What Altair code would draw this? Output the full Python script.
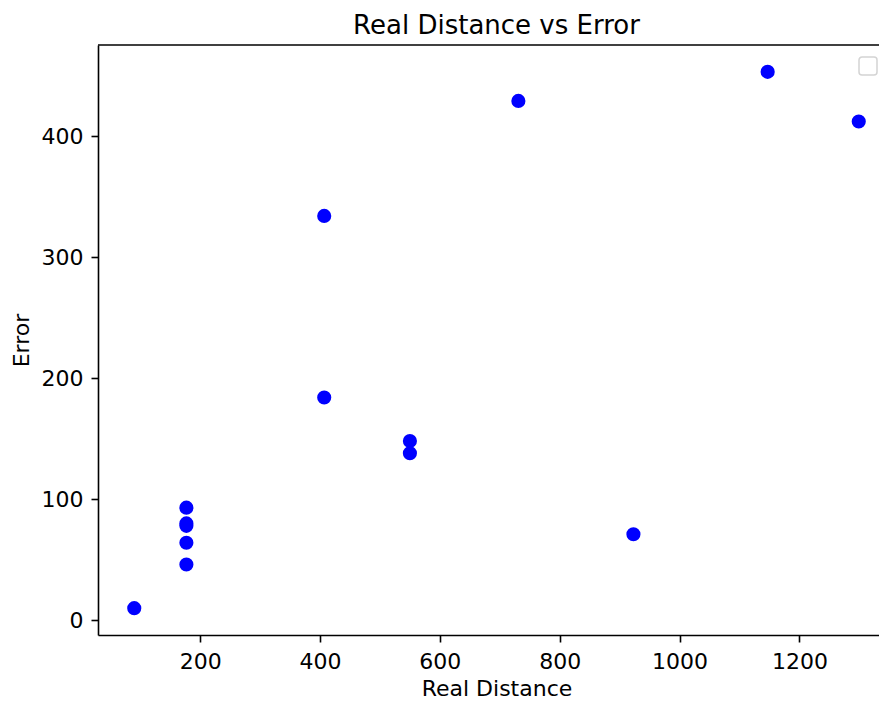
import altair as alt
import pandas as pd

# Data
real_distance = [90, 177, 177, 177, 177, 177, 407, 407, 550, 550, 731, 923, 1147, 1299]
error = [10, 93, 80, 78, 64, 46, 334, 184, 148, 138, 429, 71, 453, 412]

x_ticks = [200, 400, 600, 800, 1000, 1200]
y_ticks = [0, 100, 200, 300, 400]

df = pd.DataFrame({"Real Distance": real_distance, "Error": error})

FONT = "DejaVu Sans"
FULL_W = 797   # full axes width (the reference crops its right side)
VIEW_W = 781
VIEW_H = 590

points = alt.Chart(df).mark_circle(size=200, color="#0000ff", opacity=1).encode(
    x=alt.X(
        "Real Distance:Q",
        scale=alt.Scale(domain=[29.5, 1359.5], nice=False, zero=False, range=[0, FULL_W]),
        axis=alt.Axis(values=x_ticks, title="Real Distance", format="d", titleX=FULL_W / 2),
    ),
    y=alt.Y(
        "Error:Q",
        scale=alt.Scale(domain=[-12.2, 475.2], nice=False, zero=False),
        axis=alt.Axis(values=y_ticks, title="Error", format="d"),
    ),
)

one = pd.DataFrame({"k": [0]})

# top spine
top_spine = alt.Chart(one).mark_rule(color="black", strokeWidth=1.6).encode(
    x=alt.value(0), x2=alt.value(FULL_W), y=alt.value(0)
)

# empty legend frame (as in the reference)
legend_box = alt.Chart(one).mark_rect(
    fill="white", stroke="#d4d4d4", strokeWidth=1.5, cornerRadius=3
).encode(
    x=alt.value(761), x2=alt.value(779), y=alt.value(12), y2=alt.value(30)
)

chart = (
    alt.layer(points, top_spine, legend_box)
    .properties(
        width=VIEW_W,
        height=VIEW_H,
        title=alt.TitleParams(
            "Real Distance vs Error", fontSize=26, font=FONT, fontWeight="normal",
            color="black", anchor="middle", offset=5, dx=(FULL_W - VIEW_W) / 2,
        ),
        autosize=alt.AutoSizeParams(type="none"),
        padding={"left": 90, "top": 37, "right": 0, "bottom": 66},
    )
    .configure_view(stroke=None)
    .configure_axis(
        grid=False,
        domain=True,
        domainColor="black",
        domainWidth=1.6,
        ticks=True,
        tickColor="black",
        tickWidth=1.6,
        tickSize=7,
        labelFont=FONT,
        labelFontSize=22,
        labelColor="black",
        titleFont=FONT,
        titleFontSize=22,
        titleFontWeight="normal",
        titleColor="black",
    )
    .configure_axisX(labelPadding=9, labelFlush=False, titlePadding=6)
    .configure_axisY(labelPadding=8, titlePadding=8)
)

chart.save("out.html", embed_options={"renderer": "svg", "actions": False})
